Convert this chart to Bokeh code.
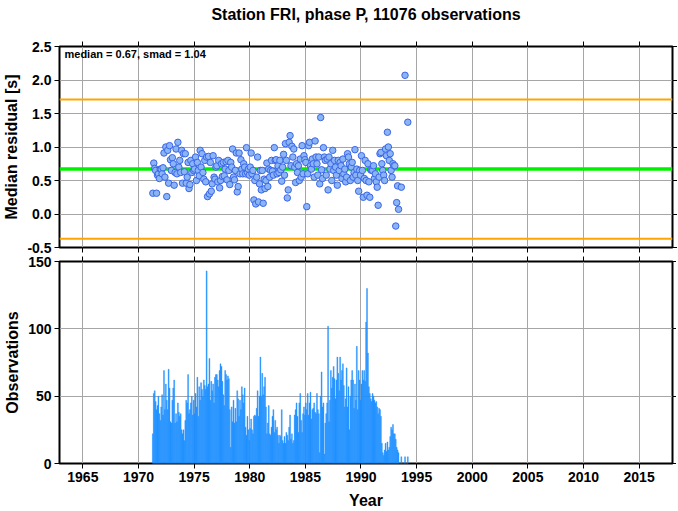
import numpy as np
from bokeh.plotting import figure
from bokeh.layouts import column
from bokeh.models import (Span, Label, LinearAxis, FixedTicker, Range1d,
                          ColumnDataSource, PrintfTickFormatter)
from bokeh.embed import file_html
from bokeh.resources import INLINE

# ---------------- data ----------------
station = "FRI"
phase = "P"
n_obs = 11076
median_val = 0.67
smad_val = 1.04

start_year = 1971
start_month = 4  # first monthly bin: April 1971

# monthly number of observations (one row per year)
obs_counts = [
    22, 52, 54, 46, 40, 43, 50, 37, 32,                     # 1971 (Apr-Dec)
    42, 51, 36, 69, 40, 59, 47, 40, 70, 56, 31, 30,         # 1972
    47, 56, 62, 30, 37, 31, 45, 38, 35, 37, 25, 22,         # 1973
    25, 17, 32, 47, 45, 66, 37, 40, 45, 50, 36, 47,         # 1974
    37, 52, 42, 64, 35, 57, 47, 60, 55, 50, 62, 58,         # 1975
    55, 143, 57, 59, 78, 47, 61, 54, 59, 45, 64, 66,        # 1976
    66, 62, 57, 69, 74, 72, 61, 51, 43, 69, 66, 62,         # 1977
    65, 63, 40, 12, 42, 31, 47, 30, 41, 31, 54, 48,         # 1978
    35, 47, 40, 57, 51, 45, 56, 27, 21, 35, 25, 17,         # 1979
    26, 33, 25, 22, 35, 36, 35, 41, 54, 35, 50, 79,         # 1980
    50, 67, 51, 57, 64, 42, 22, 30, 43, 22, 21, 27,         # 1981
    35, 40, 23, 32, 25, 27, 21, 15, 21, 20, 40, 17,         # 1982
    15, 20, 15, 23, 21, 17, 27, 36, 18, 22, 15, 17,         # 1983
    36, 40, 45, 35, 23, 45, 52, 32, 23, 37, 42, 36,         # 1984
    45, 40, 52, 36, 45, 53, 33, 40, 41, 45, 38, 37,         # 1985
    52, 40, 37, 8, 50, 68, 42, 45, 7, 30, 37, 45,           # 1986
    102, 31, 47, 69, 56, 64, 72, 63, 48, 62, 79, 67,        # 1987
    54, 79, 62, 69, 74, 58, 42, 48, 71, 42, 57, 25,         # 1988
    50, 62, 69, 62, 41, 59, 47, 87, 40, 69, 62, 47,         # 1989
    59, 69, 62, 69, 61, 105, 130, 82, 57, 52, 48, 46,       # 1990
    52, 50, 47, 45, 46, 42, 37, 41, 40, 35, 15, 8,          # 1991
    6, 10, 15, 9, 16, 10, 12, 20, 27, 25, 29, 22,           # 1992
    22, 18, 12, 10, 8, 0, 0, 5, 0, 0, 0, 5,                 # 1993
    0, 0, 5,                                                # 1994 (Jan-Mar)
]

N = None
# monthly median residual [s] (None where no data)
median_resid = [
    0.31, 0.76, 0.68, 0.65, 0.31, 0.58, 0.60, 0.53, 0.67,                # 1971
    0.67, 0.60, 0.69, 0.91, 0.55, 1.00, 0.26, 0.95, 0.46, 1.02, 0.81, 0.65,  # 1972
    0.84, 0.75, 0.43, 0.62, 0.97, 0.60, 1.07, 0.70, 0.80, 0.62, 0.95, 0.46,  # 1973
    0.90, 0.63, 0.90, 0.46, 0.55, 0.77, 0.38, 0.44, 0.80, 0.62, 0.75, 0.65,  # 1974
    0.67, 0.85, 0.50, 0.77, 0.65, 0.57, 0.95, 0.70, 0.90, 0.62, 0.52, 0.80,  # 1975
    0.48, 0.85, 0.26, 0.86, 0.30, 0.77, 0.34, 0.45, 0.87, 0.55, 0.52, 0.70,  # 1976
    0.72, 0.48, 0.80, 0.39, 0.50, 0.75, 0.56, 0.77, 0.57, 0.67, 0.78, 0.51,  # 1977
    0.80, 0.65, 0.44, 0.77, 0.70, 0.97, 0.55, 0.51, 0.65, 0.91, 0.33, 0.41,  # 1978
    0.91, 0.60, 0.81, 0.67, 0.60, 0.75, 0.70, 0.60, 0.99, 0.62, 0.67, 0.58,  # 1979
    0.70, 0.91, 0.60, 0.65, 0.21, 0.50, 0.15, 0.55, 0.85, 0.18, 0.45, 0.65,  # 1980
    0.36, 0.65, 0.16, 0.52, 0.38, 0.50, 0.76, 0.41, 0.67, 0.55, 0.65, 0.80,  # 1981
    0.64, 0.58, 0.99, 0.80, 0.81, 0.60, 0.72, 0.62, 0.80, 0.66, 0.49, 0.70,  # 1982
    0.89, 0.58, 1.05, 0.80, 0.24, 0.36, 1.07, 1.17, 0.72, 1.01, 0.85, 0.97,  # 1983
    0.70, 0.47, 0.75, 0.62, 0.72, 0.50, 0.82, 0.55, 1.02, 0.60, 0.87, 0.81,  # 1984
    0.77, 0.11, 0.60, 1.02, 1.07, 0.72, 0.67, 0.82, 0.75, 0.55, 1.09, 0.85,  # 1985
    0.75, 0.58, 0.85, 0.45, 1.44, 0.66, 0.53, 0.99, 0.85, 0.80, 0.58, 0.82,  # 1986
    0.36, 0.85, 0.67, 0.75, 0.50, 0.95, 0.65, 0.80, 0.70, 0.58, 0.43, 0.80,  # 1987
    0.65, 0.77, 0.72, 0.53, 0.82, 0.60, 0.67, 0.48, 0.55, 0.90, 0.85, 0.75,  # 1988
    0.50, 0.70, 0.77, 0.55, 0.62, 0.96, 0.58, 0.67, 0.50, 0.34, 0.65, 0.58,  # 1989
    0.87, 0.65, 0.25, 0.53, 0.80, 0.50, 0.28, 0.75, 0.48, 0.25, 0.66, 0.65,  # 1990
    0.65, 0.72, 0.53, 0.60, 0.48, 0.40, 0.13, 0.55, 0.90, 0.92, 0.75, 0.65,  # 1991
    0.58, 0.50, 0.97, 0.87, 1.22, 1.00, 0.80, 0.90, 0.65, 0.55, 0.75, 0.72,  # 1992
    0.72, -0.18, 0.17, 0.42, 0.07, N, N, 0.40, N, N, N, 2.07,                # 1993
    N, N, 1.37,                                                              # 1994
]

year_ticks = [1965, 1970, 1975, 1980, 1985, 1990, 1995, 2000, 2005, 2010, 2015]
resid_ticks = [-0.5, 0.0, 0.5, 1.0, 1.5, 2.0, 2.5]
obs_ticks = [0, 50, 100, 150]
x_limits = (1962.9, 2018.0)
resid_limits = (-0.5, 2.5)
obs_limits = (0, 150)

# ---------------- derived ----------------
n = len(obs_counts)
t_mid = start_year + (start_month - 1) / 12.0 + (np.arange(n) + 0.5) / 12.0
bar_src = ColumnDataSource(dict(x=t_mid, top=obs_counts))
mask = [v is not None for v in median_resid]
pt_src = ColumnDataSource(dict(x=[x for x, m in zip(t_mid, mask) if m],
                               y=[v for v in median_resid if v is not None]))

FONT = "Liberation Sans"
GRID = "#a6a6a6"


def style_axis(ax, ticks, labels=True, fmt=None):
    ax.ticker = FixedTicker(ticks=ticks)
    ax.major_tick_out = 5
    ax.major_tick_in = 0
    ax.minor_tick_line_color = None
    ax.major_tick_line_color = "black"
    ax.major_tick_line_width = 1
    ax.axis_line_color = None
    if fmt:
        ax.formatter = PrintfTickFormatter(format=fmt)
    if labels:
        ax.major_label_text_font = FONT
        ax.major_label_text_font_style = "bold"
        ax.major_label_text_font_size = "14px"
        ax.major_label_text_color = "black"
        ax.major_label_standoff = 3
    else:
        ax.major_label_text_font_size = "0px"
        ax.major_label_text_color = None
        ax.major_label_standoff = 0
    ax.axis_label_text_font = FONT
    ax.axis_label_text_font_style = "bold"
    ax.axis_label_text_font_size = "16px"
    ax.axis_label_text_color = "black"
    ax.axis_label_standoff = 4


def base_fig(frame_h, ylim, yticks, ylabel, yfmt, border_top, border_bottom):
    p = figure(frame_width=613, frame_height=frame_h,
               x_range=Range1d(*x_limits), y_range=Range1d(*ylim),
               output_backend="svg", toolbar_location=None,
               min_border_left=51, min_border_right=5,
               min_border_top=border_top, min_border_bottom=border_bottom)
    p.outline_line_color = "black"
    p.outline_line_width = 2
    p.background_fill_color = "white"
    p.border_fill_color = "white"
    p.xgrid.ticker = FixedTicker(ticks=year_ticks)
    p.ygrid.ticker = FixedTicker(ticks=yticks)
    for g in (p.xgrid[0], p.ygrid[0]):
        g.grid_line_color = GRID
        g.grid_line_width = 1
    xa = p.below[0]
    ya = p.left[0]
    style_axis(ya, yticks, True, yfmt)
    ya.axis_label = ylabel
    top_ax = LinearAxis()
    style_axis(top_ax, year_ticks, False)
    p.add_layout(top_ax, "above")
    right_ax = LinearAxis()
    style_axis(right_ax, yticks, False)
    p.add_layout(right_ax, "right")
    return p, xa, top_ax


# ---------------- top panel: median residuals ----------------
top, top_xa, top_above = base_fig(201, resid_limits, resid_ticks,
                                  "Median residual [s]", "%.1f", 46, 7)
style_axis(top_xa, year_ticks, False)
# chart title, centred over the frame, carried by the upper tick axis
top_above.axis_label = f"Station {station}, phase {phase}, {n_obs} observations"
top_above.axis_label_standoff = 19

for lvl, col, lw in ((median_val + smad_val, "#ffa500", 2),
                     (median_val - smad_val, "#ffa500", 2),
                     (median_val, "#00f000", 3.5)):
    top.add_layout(Span(location=lvl, dimension="width", line_color=col,
                        line_width=lw, level="underlay"))

top.scatter("x", "y", source=pt_src, size=6.5, fill_color="#8ab4f4",
            line_color="#3a66e8", line_width=1)

top.add_layout(Label(x=x_limits[0] + 0.45, y=resid_limits[1] - 0.105,
                     text=f"median = {median_val:.2f}, smad = {smad_val:.2f}",
                     text_font=FONT, text_font_style="bold",
                     text_font_size="11px", text_baseline="middle",
                     text_color="black"))

# ---------------- bottom panel: observation counts ----------------
bot, bot_xa, _ = base_fig(202, obs_limits, obs_ticks, "Observations", "%d", 7, 48)
style_axis(bot_xa, year_ticks, True, "%d")
bot_xa.axis_label = "Year"
bot_xa.axis_label_standoff = 7
bot.vbar(x="x", top="top", width=1 / 12.0, bottom=0, source=bar_src,
         fill_color="#1e90ff", line_color="#1e90ff", line_width=0.4)

layout = column(top, bot)
open("out.html", "w").write(file_html(layout, INLINE))
